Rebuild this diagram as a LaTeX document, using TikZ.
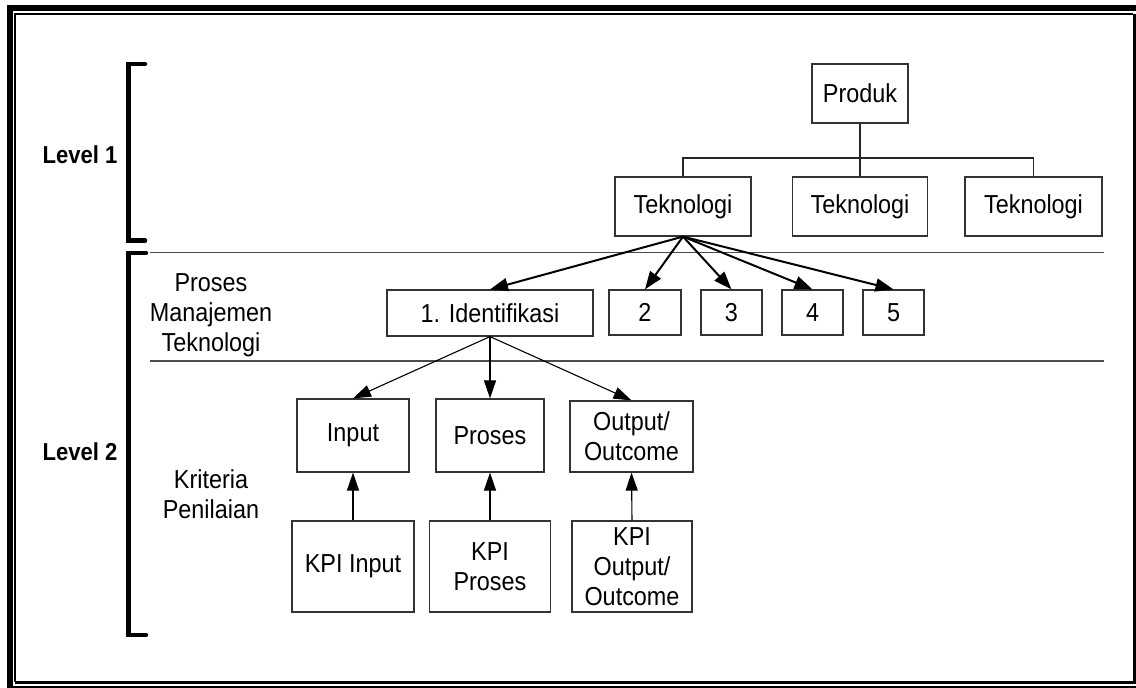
\documentclass[tikz,border=0pt]{standalone}
\usepackage{fontspec}
\setmainfont{Liberation Sans}[FakeStretch=0.9]
\usetikzlibrary{arrows.meta}
\begin{document}
\begin{tikzpicture}[x=1pt,y=-1pt,
  every node/.style={font=\fontsize{26}{30}\selectfont},
  box/.style={draw=black!80, line width=1.2pt, rectangle, inner sep=0pt, align=center},
  label/.style={align=center, inner sep=0pt, anchor=base},
  levellabel/.style={inner sep=0pt, anchor=base, font=\fontsize{24.5}{30}\selectfont\bfseries},
  mainarrow/.style={line width=2pt, -{Triangle[length=18pt,width=13pt]}},
  subarrow/.style={line width=1.1pt, -{Triangle[length=18pt,width=12pt]}},
  link/.style={line width=1.2pt, draw=black!85},
  rule/.style={line width=1.2pt, draw=black!70},
  brace/.style={line width=4.5pt, line cap=round, line join=miter}]
\useasboundingbox (0,0) rectangle (1136,688);
\fill[white] (0,0) rectangle (1136,688);

% thick-thin page frame
\draw[line width=6pt] (7,8) -- (1136,8);
\draw[line width=6pt] (10,5) -- (10,688);
\draw[line width=1.2pt] (14,14) -- (1133,14);
\draw[line width=1.2pt] (15,14) -- (15,682);
\draw[line width=3pt] (15,682.5) -- (1136,682.5);
\draw[line width=3pt] (1134.5,14) -- (1134.5,684);
\draw[line width=1.2pt] (7,687) -- (1136,687);

% level brackets and row separators
\draw[brace] (145,64) -- (128.5,64) -- (128.5,240.5) -- (145,240.5);
\draw[brace] (146,253) -- (128.5,253) -- (128.5,635) -- (146,635);
\draw[rule] (150,252.5) -- (1104,252.5);
\draw[rule] (150,361) -- (1104,361);

% side labels (base anchor sits on the last line)
\node[levellabel] (lvl1) at (80,163) {Level 1};
\node[levellabel] (lvl2) at (80,460) {Level 2};
\node[label] (pmt) at (211,351) {Proses\\Manajemen\\Teknologi};
\node[label] (kp) at (211,518) {Kriteria\\Penilaian};

% level 1: product and technologies
\node[box, minimum width=96pt, minimum height=59pt] (produk) at (860,93.5) {Produk};
\node[box, minimum width=136pt, minimum height=59pt] (tek1) at (683,206.5) {Teknologi};
\node[box, minimum width=135pt, minimum height=59pt] (tek2) at (860,206.5) {Teknologi};
\node[box, minimum width=137pt, minimum height=59pt] (tek3) at (1033.5,206.5) {Teknologi};
\coordinate (bus) at (0,158);
\draw[link] (produk.south) -- (tek2.north);
\draw[link] (tek1.north) -- (tek1.north |- bus) -- (tek3.north |- bus) -- (tek3.north);

% level 2: technology management process steps
\node[box, minimum width=206pt, minimum height=46pt] (iden) at (490,313) {1. Identifikasi};
\node[box, minimum width=72pt, minimum height=45pt] (p2) at (645,312.5) {2};
\node[box, minimum width=61pt, minimum height=45pt] (p3) at (731.5,312.5) {3};
\node[box, minimum width=61pt, minimum height=45pt] (p4) at (812.5,312.5) {4};
\node[box, minimum width=61pt, minimum height=45pt] (p5) at (893.5,312.5) {5};
\foreach \t in {iden,p2,p3,p4,p5}
  \draw[mainarrow] (tek1.south) -- (\t.north);

% assessment criteria
\node[box, minimum width=112pt, minimum height=73pt] (input) at (353,435.5) {Input};
\node[box, minimum width=108pt, minimum height=73pt] (proses) at (490,435.5) {Proses};
\node[box, minimum width=123pt, minimum height=71pt] (output) at (631.5,436.5) {Output/\\Outcome};
\node[box, minimum width=122pt, minimum height=91pt] (kpiin) at (353,566.5) {KPI Input};
\node[box, minimum width=121pt, minimum height=91pt] (kpipr) at (490,566.5) {KPI\\Proses};
\node[box, minimum width=120pt, minimum height=91pt] (kpiout) at (632,566.5) {KPI\\Output/\\Outcome};
\foreach \t in {input,proses,output}
  \draw[subarrow] (iden.south) -- (\t.north);
\draw[subarrow] (kpiin.north) -- (input.south);
\draw[subarrow] (kpipr.north) -- (proses.south);
\draw[subarrow] (kpiout.north) -- (output.south);
\end{tikzpicture}
\end{document}
